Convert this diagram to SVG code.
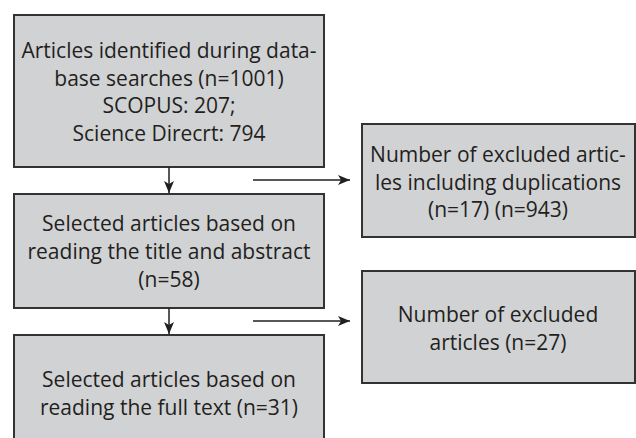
<svg xmlns="http://www.w3.org/2000/svg" width="636" height="438" viewBox="0 0 636 438">
<defs>
<style>
.box{fill:#d1d2d4;stroke:#333333;stroke-width:2}
.t{font-family:"Open Sans","Liberation Sans",sans-serif;font-size:21px;fill:#231f20;text-anchor:middle}
.c{stroke:#231f20;stroke-width:1.5;fill:none}
</style>
<marker id="ah" viewBox="0 0 12 10" refX="12" refY="5" markerWidth="12" markerHeight="10" markerUnits="userSpaceOnUse" orient="auto">
<path d="M0,0 L12,5 L0,10 L3,5 Z" fill="#231f20"/>
</marker>
</defs>
<rect width="636" height="438" fill="#ffffff"/>
<g id="n1">
<rect class="box" x="14" y="15" width="310" height="152"/>
<text class="t" x="169" y="58">Articles identified during data-</text>
<text class="t" x="169" y="86">base searches (n=1001)</text>
<text class="t" x="169" y="113">SCOPUS: 207;</text>
<text class="t" x="169" y="141">Science Direcrt: 794</text>
</g>
<g id="n2">
<rect class="box" x="14" y="194" width="310" height="114"/>
<text class="t" x="169" y="231">Selected articles based on</text>
<text class="t" x="169" y="259">reading the title and abstract</text>
<text class="t" x="169" y="287">(n=58)</text>
</g>
<g id="n3">
<rect class="box" x="14" y="335" width="310" height="110"/>
<text class="t" x="169" y="387">Selected articles based on</text>
<text class="t" x="169" y="415">reading the full text (n=31)</text>
</g>
<g id="n4">
<rect class="box" x="362" y="124" width="273" height="113"/>
<text class="t" x="498" y="162">Number of excluded artic-</text>
<text class="t" x="498" y="190">les including duplications</text>
<text class="t" x="498" y="217">(n=17) (n=943)</text>
</g>
<g id="n5">
<rect class="box" x="362" y="271" width="273" height="112"/>
<text class="t" x="498" y="322">Number of excluded</text>
<text class="t" x="498" y="350">articles (n=27)</text>
</g>
<g id="connectors">
<line class="c" x1="169" y1="167" x2="169" y2="193" marker-end="url(#ah)"/>
<line class="c" x1="253" y1="180" x2="350" y2="180" marker-end="url(#ah)"/>
<line class="c" x1="169" y1="308" x2="169" y2="334" marker-end="url(#ah)"/>
<line class="c" x1="253" y1="321" x2="350" y2="321" marker-end="url(#ah)"/>
</g>
</svg>
